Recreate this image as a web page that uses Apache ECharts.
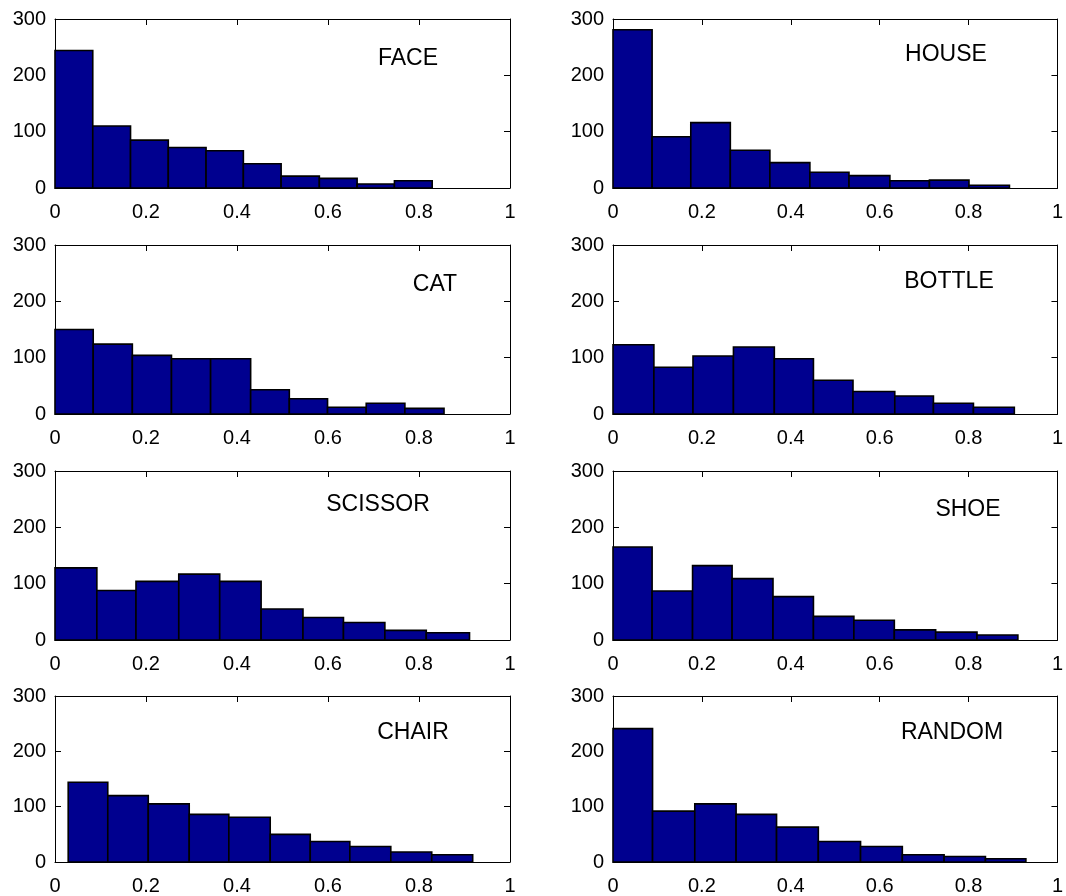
<!DOCTYPE html>
<html>
<head>
<meta charset="utf-8">
<script src="https://cdn.jsdelivr.net/npm/echarts@6/dist/echarts.min.js"></script>
<style>
html,body{margin:0;padding:0;background:#fff;}
#chart{width:1066px;height:896px;}
</style>
</head>
<body>
<div id="chart"></div>
<script>
// Panel names
const panelNames = ['FACE', 'HOUSE', 'CAT', 'BOTTLE', 'SCISSOR', 'SHOE', 'CHAIR', 'RANDOM'];

// Bin edges
const faceEdges    = [0, 0.083, 0.166, 0.249, 0.332, 0.414, 0.497, 0.581, 0.664, 0.746, 0.829];
const houseEdges   = [0, 0.088, 0.175, 0.264, 0.353, 0.443, 0.531, 0.623, 0.712, 0.801, 0.892];
const catEdges     = [0, 0.084, 0.170, 0.256, 0.342, 0.430, 0.515, 0.599, 0.684, 0.769, 0.855];
const bottleEdges  = [0, 0.092, 0.180, 0.271, 0.363, 0.451, 0.540, 0.634, 0.721, 0.811, 0.903];
const scissorEdges = [0, 0.092, 0.178, 0.272, 0.362, 0.453, 0.545, 0.634, 0.725, 0.816, 0.911];
const shoeEdges    = [0, 0.088, 0.179, 0.268, 0.360, 0.451, 0.542, 0.633, 0.726, 0.819, 0.911];
const chairEdges   = [0.029, 0.116, 0.205, 0.295, 0.382, 0.473, 0.561, 0.648, 0.738, 0.828, 0.918];
const randomEdges  = [0, 0.089, 0.184, 0.277, 0.368, 0.462, 0.557, 0.651, 0.745, 0.838, 0.929];

// Bin counts
const faceCounts    = [244, 110, 85, 72, 66, 43, 21, 17, 7, 13];
const houseCounts   = [281, 91, 116, 67, 45, 28, 22, 13, 14, 5];
const catCounts     = [150, 124, 104, 98, 98, 43, 27, 12, 19, 10];
const bottleCounts  = [123, 83, 103, 119, 98, 60, 40, 32, 19, 12];
const scissorCounts = [128, 88, 104, 117, 104, 55, 40, 31, 17, 13];
const shoeCounts    = [165, 87, 132, 109, 77, 42, 35, 18, 14, 9];
const chairCounts   = [144, 120, 105, 86, 81, 50, 37, 28, 18, 13];
const randomCounts  = [241, 92, 105, 86, 63, 37, 28, 13, 10, 6];

// Axis ticks
const xTicks = [0, 0.2, 0.4, 0.6, 0.8, 1];
const yTicks = [0, 100, 200, 300];

const allEdges = [faceEdges, houseEdges, catEdges, bottleEdges, scissorEdges, shoeEdges, chairEdges, randomEdges];
const allCounts = [faceCounts, houseCounts, catCounts, bottleCounts, scissorCounts, shoeCounts, chairCounts, randomCounts];

// layout (pixels)
const colLeft = [55, 613];
const colWidth = [455, 449];
const rowTop = [19, 245, 471, 696];
const plotH = 169;
const labelPos = [[408, 59], [946, 55], [435, 285], [949, 282], [378, 505], [968, 510], [413, 733], [952, 733]];

const FONT = 'Arial, "Liberation Sans", sans-serif';
const grids = [], xAxes = [], yAxes = [], series = [], graphics = [];

for (let i = 0; i < 8; i++) {
  const r = Math.floor(i / 2), c = i % 2;
  grids.push({left: colLeft[c], top: rowTop[r], width: colWidth[c], height: plotH});
  const common = {
    type: 'value', gridIndex: i,
    splitLine: {show: false},
    axisLine: {show: true, onZero: false, lineStyle: {color: '#000', width: 1}},
    axisTick: {show: true, inside: true, length: 6, lineStyle: {color: '#000', width: 1}}
  };
  xAxes.push(Object.assign({}, common, {
    position: 'bottom', min: xTicks[0], max: xTicks[xTicks.length - 1], interval: 0.2,
    axisLabel: {show: true, color: '#000', fontSize: 20, fontFamily: FONT, margin: 14}
  }));
  xAxes.push(Object.assign({}, common, {
    position: 'top', min: xTicks[0], max: xTicks[xTicks.length - 1], interval: 0.2,
    axisLabel: {show: false}
  }));
  yAxes.push(Object.assign({}, common, {
    position: 'left', min: yTicks[0], max: yTicks[yTicks.length - 1], interval: 100,
    axisLabel: {show: true, color: '#000', fontSize: 20, fontFamily: FONT, margin: 9, padding: [5, 0, 0, 0]}
  }));
  yAxes.push(Object.assign({}, common, {
    position: 'right', min: yTicks[0], max: yTicks[yTicks.length - 1], interval: 100,
    axisLabel: {show: false}
  }));

  const edges = allEdges[i], counts = allCounts[i];
  const data = counts.map((v, k) => [edges[k], edges[k + 1], v]);
  series.push({
    type: 'custom',
    xAxisIndex: 2 * i, yAxisIndex: 2 * i,
    data: data,
    encode: {x: [0, 1], y: 2},
    renderItem: function (params, api) {
      const p0 = api.coord([api.value(0), api.value(2)]);
      const p1 = api.coord([api.value(1), 0]);
      return {
        type: 'rect',
        shape: {x: p0[0], y: p0[1], width: p1[0] - p0[0], height: p1[1] - p0[1]},
        style: {fill: '#00008F', stroke: '#000', lineWidth: 1.6}
      };
    }
  });

  graphics.push({
    type: 'text', x: labelPos[i][0], y: labelPos[i][1], z: 100,
    style: {text: panelNames[i], fill: '#000', font: '23px ' + FONT, textAlign: 'center', textVerticalAlign: 'middle'}
  });
}

const chart = echarts.init(document.getElementById('chart'), null, {renderer: 'canvas'});
chart.setOption({
  animation: false,
  backgroundColor: '#fff',
  grid: grids,
  xAxis: xAxes,
  yAxis: yAxes,
  series: series,
  graphic: graphics
});
</script>
</body>
</html>
